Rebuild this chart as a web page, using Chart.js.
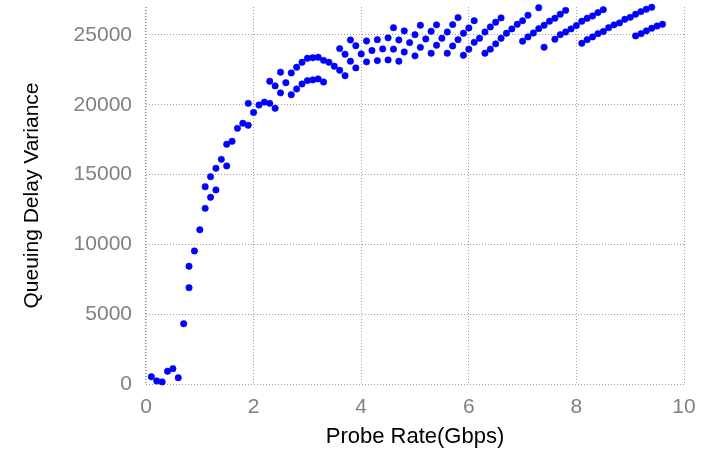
<!DOCTYPE html>
<html>
<head>
<meta charset="utf-8">
<script src="https://cdn.jsdelivr.net/npm/chart.js@4.4.1/dist/chart.umd.min.js"></script>
<style>
  html, body { margin: 0; padding: 0; background: #fff; }
  #graph { display: block; }
</style>
</head>
<body>
<canvas id="graph" width="706" height="453"></canvas>
<script>
const rateGbps = [
  0.1, 0.2, 0.3, 0.4, 0.5, 0.6, 0.7, 0.8, 0.8, 0.9,
  1.0, 1.1, 1.1, 1.2, 1.2, 1.3, 1.3, 1.4, 1.5, 1.5,
  1.6, 1.7, 1.8, 1.9, 1.9, 2.0, 2.1, 2.2, 2.3, 2.3,
  2.4, 2.4, 2.5, 2.5, 2.6, 2.7, 2.7, 2.8, 2.8, 2.9,
  2.9, 3.0, 3.0, 3.1, 3.1, 3.2, 3.2, 3.3, 3.3, 3.4,
  3.5, 3.6, 3.6, 3.7, 3.7, 3.8, 3.8, 3.9, 3.9, 4.0,
  4.1, 4.1, 4.2, 4.3, 4.3, 4.4, 4.5, 4.5, 4.6, 4.6,
  4.7, 4.7, 4.8, 4.8, 4.9, 5.0, 5.0, 5.1, 5.1, 5.2,
  5.3, 5.3, 5.4, 5.4, 5.5, 5.6, 5.6, 5.7, 5.7, 5.8,
  5.8, 5.9, 5.9, 6.0, 6.0, 6.1, 6.1, 6.2, 6.3, 6.3,
  6.4, 6.4, 6.5, 6.5, 6.6, 6.6, 6.7, 6.8, 6.9, 7.0,
  7.0, 7.1, 7.1, 7.2, 7.3, 7.3, 7.4, 7.4, 7.5, 7.6,
  7.6, 7.7, 7.7, 7.8, 7.8, 7.9, 8.0, 8.1, 8.1, 8.2,
  8.2, 8.3, 8.3, 8.4, 8.4, 8.5, 8.5, 8.6, 8.7, 8.8,
  8.9, 9.0, 9.1, 9.1, 9.2, 9.2, 9.3, 9.3, 9.4, 9.4,
  9.5, 9.6
];
const delayVariance = [
  520, 220, 150, 910, 1100, 450, 4320, 6900, 8430, 9530,
  11050, 12580, 14130, 13370, 14850, 13900, 15450, 16090, 15620, 17170,
  17380, 18310, 18670, 18530, 20100, 19450, 19980, 20190, 20100, 21680,
  19750, 21350, 20850, 22330, 21580, 20720, 22280, 21130, 22690, 21490,
  23040, 21730, 23330, 21780, 23370, 21850, 23400, 21630, 23180, 23040,
  22760, 22470, 24020, 22080, 23620, 23120, 24640, 22640, 24230, 23640,
  23070, 24570, 23880, 23160, 24660, 24000, 23210, 24790, 23980, 25520,
  23120, 24640, 23780, 25290, 24450, 23500, 25020, 24110, 25690, 24710,
  23690, 25260, 24260, 25720, 24760, 23690, 25210, 24210, 25740, 24660,
  26240, 23540, 25120, 23980, 25500, 24470, 26020, 24760, 23690, 25210,
  23980, 25570, 24360, 25910, 24760, 26220, 25120, 25430, 25760, 24550,
  26020, 24860, 26410, 25140, 25450, 26950, 24120, 25690, 25980, 24690,
  26190, 25020, 26480, 25210, 26760, 25430, 25670, 24400, 25980, 24660,
  26190, 24860, 26360, 25090, 26600, 25240, 26810, 25520, 25720, 25860,
  26120, 26260, 24930, 26480, 25090, 26670, 25290, 26840, 25480, 26980,
  25640, 25760
];
const xTicks = [0, 2, 4, 6, 8, 10];
const yTicks = [0, 5000, 10000, 15000, 20000, 25000];

const points = rateGbps.map((r, i) => ({ x: r, y: delayVariance[i] }));

const family = "'Liberation Sans', Arial, sans-serif";
const tickFont = { family, size: 21 };

const ctx = document.getElementById('graph').getContext('2d');
const chart = new Chart(ctx, {
  type: 'scatter',
  data: {
    datasets: [{
      data: points,
      backgroundColor: '#0000ff',
      borderColor: '#0000ff',
      borderWidth: 0.6,
      pointRadius: 3.2,
      clip: false
    }]
  },
  options: {
    responsive: false,
    animation: false,
    devicePixelRatio: 1,
    layout: { padding: { left: 0, right: 22, top: 7, bottom: 0 } },
    plugins: { legend: { display: false }, tooltip: { enabled: false } },
    scales: {
      x: {
        type: 'linear',
        min: 0,
        max: 10,
        afterBuildTicks: s => { s.ticks = xTicks.map(v => ({ value: v })); },
        afterFit: s => { s.height = 69; s.paddingLeft = 0; s.paddingRight = 0; },
        // left axis line a bit darker than the rest of the grid
        grid: { drawTicks: false, lineWidth: c => c.tick && c.tick.value === 0 ? 1.5 : 1,
                color: c => c.tick && c.tick.value === 0 ? '#888' : '#a0a0a0' },
        border: { display: false, dash: [1, 2] },
        ticks: { color: '#808080', font: tickFont, padding: 11, maxRotation: 0, callback: v => String(v) },
        title: { display: true, text: 'Probe Rate(Gbps)', color: '#000', font: { family, size: 22 }, padding: { top: 0, bottom: 3 } }
      },
      y: {
        type: 'linear',
        min: 0,
        max: 27000,
        afterBuildTicks: s => { s.ticks = yTicks.map(v => ({ value: v })); },
        afterFit: s => { s.width = 146; s.paddingTop = 0; s.paddingBottom = 0; },
        grid: { drawTicks: false, color: '#a0a0a0', lineWidth: 1 },
        border: { display: false, dash: [1, 2] },
        ticks: { color: '#808080', font: tickFont, padding: 14, callback: v => String(v) },
        title: { display: true, text: 'Queuing Delay Variance', color: '#000', font: { family, size: 21 }, padding: { top: 20, bottom: 0 } }
      }
    }
  }
});
</script>
</body>
</html>
